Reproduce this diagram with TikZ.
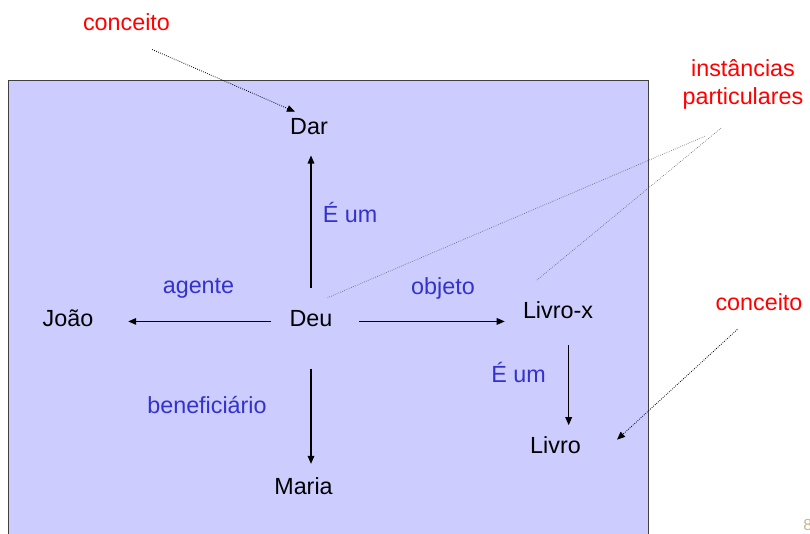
\documentclass[tikz,border=0pt]{standalone}
\usepackage{fontspec}
\setmainfont{Liberation Sans}
\usepackage{tikz}
\usetikzlibrary{arrows.meta}
\definecolor{lavanda}{RGB}{204,204,255}
\definecolor{azul}{RGB}{51,51,204}
\definecolor{vermelho}{RGB}{255,0,0}
\definecolor{pagina}{RGB}{200,180,140}

\begin{document}
\begin{tikzpicture}[x=0.75pt, y=-0.75pt, font=\fontsize{17.5}{21}\selectfont,
		txt/.style={inner sep=0pt, anchor=base},
		rel/.style={txt, text=azul},
		nota/.style={txt, text=vermelho},
		seta/.style={-{Triangle[length=6pt,width=5pt]}, line width=0.8pt},
		pont/.style={densely dotted, -{Triangle[length=6pt,width=5pt]}, line width=0.6pt},
		fio/.style={densely dotted, line width=0.5pt, black!60}]
				\useasboundingbox (0,0) rectangle (810,533);
				\filldraw[fill=lavanda, draw=black!75, line width=0.75pt] (8,80) rectangle (648,545);
				\node[nota] (conc1) at (126.5,30) {conceito};
				\node[nota] (conc2) at (759,310) {conceito};
				\node[nota, anchor=center, align=center] (inst) at (743,84) {instâncias\\particulares};
				\node[txt] (dar) at (309,134) {Dar};
				\node[txt] (joao) at (68,326) {João};
				\node[txt] (deu) at (311,326) {Deu};
				\node[txt] (livrox) at (558,318) {Livro-x};
				\node[txt] (livro) at (555.5,453) {Livro};
				\node[txt] (maria) at (303.5,494) {Maria};
				\node[rel] (eum1) at (350,222) {É um};
				\node[rel] (agente) at (198.5,293) {agente};
				\node[rel] (objeto) at (443,294) {objeto};
				\node[rel] (eum2) at (518.5,382) {É um};
				\node[rel] (benef) at (207,413) {beneficiário};
				\draw[seta, shorten <=16.5pt, shorten >=15.75pt] (deu.north) -- (deu.north |- dar.south);
				\draw[seta, shorten <=13.5pt, shorten >=26pt] ([yshift=-2.5pt]deu.west) -- ([yshift=-2.5pt]deu.west -| joao.east);
				\draw[seta, shorten <=20pt, shorten >=13.5pt] ([yshift=-2.5pt]deu.east) -- ([yshift=-2.5pt]deu.east -| livrox.west);
				\draw[seta, shorten <=31.5pt, shorten >=9.75pt] (deu.south) -- (deu.south |- maria.north);
				\draw[seta, shorten <=20pt, shorten >=8pt] ([xshift=8pt]livrox.south) -- ([xshift=8pt]livrox.south |- livro.north);
				\draw[pont] ([shift={(-18,19)}]conc1.south east) -- ([shift={(5,-6)}]dar.north west);
				\draw[pont] ([shift={(22,19)}]conc2.south west) -- ([shift={(36,-5)}]livro.east);
				\draw[fio] ([shift={(-38,27)}]inst.south) -- ([shift={(-5,-12)}]deu.north east);
				\draw[fio] ([shift={(-22,19)}]inst.south) -- ([shift={(-22,-20)}]livrox.north);
				\node[anchor=north west, inner sep=0pt, text=pagina, font=\fontsize{12}{14}\selectfont] (pag) at (803,519) {8};
			\end{tikzpicture}
\end{document}
